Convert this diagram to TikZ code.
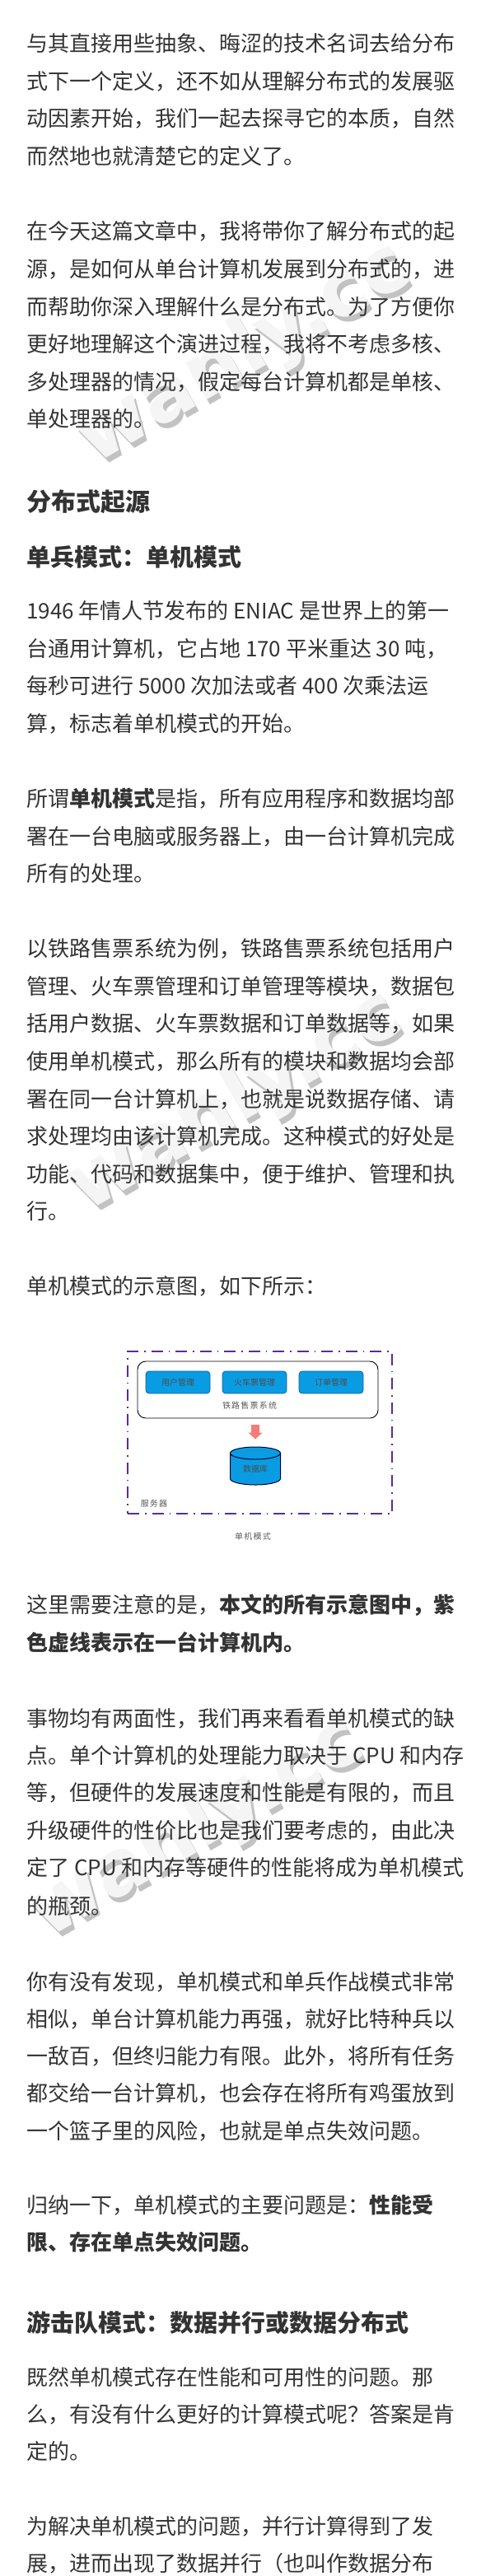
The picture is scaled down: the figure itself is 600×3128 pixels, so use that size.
\documentclass[tikz,border=0pt]{standalone}
\usepackage{fontspec}
\setmainfont{Noto Sans CJK SC}
\newfontfamily\markfont{DejaVu Sans}
\usetikzlibrary{arrows.meta,shapes.geometric}
\definecolor{inkgray}{HTML}{333333}
\definecolor{vmpurple}{HTML}{5A2D91}
\definecolor{modblue}{HTML}{0A9CE2}
\definecolor{modedge}{HTML}{145F96}
\definecolor{flowred}{HTML}{F47C78}
\tikzset{
  para/.style={anchor=base west,inner sep=0pt,yshift=-9.5pt,text=inkgray,font=\fontsize{26pt}{26pt}\selectfont},
  headone/.style={para,yshift=-10.5pt,font=\fontsize{30pt}{30pt}\selectfont\bfseries},
  headtwo/.style={para,yshift=-10pt,font=\fontsize{29pt}{29pt}\selectfont\bfseries},
  module/.style={draw=modedge,fill=modblue,line width=.8pt,rounded corners=4pt,minimum width=78pt,minimum height=27pt,inner sep=0pt,text=black!70,font=\fontsize{10pt}{10pt}\selectfont},
  tiny/.style={inner sep=0pt,text=black!65,font=\fontsize{10pt}{10pt}\selectfont\addfontfeature{LetterSpace=12}},
  markshade/.style={rotate=30,inner sep=0pt,text=black!24,font=\fontsize{94pt}{94pt}\markfont\bfseries},
  marktop/.style={rotate=30,inner sep=0pt,text=black!4,font=\fontsize{94pt}{94pt}\markfont\bfseries}
}
\begin{document}
\begin{tikzpicture}[x=1pt,y=-1pt]
  \useasboundingbox (0,0) rectangle (600,3128);
  % watermark
  \node[markshade] (shadea) at (300,436) {wanly.cc};
  \node[marktop] (marka) at (296,430) {wanly.cc};
  \node[markshade] (shadeb) at (290,1344) {wanly.cc};
  \node[marktop] (markb) at (286,1338) {wanly.cc};
  \node[markshade] (shadec) at (243,2226) {wanly.cc};
  \node[marktop] (markc) at (239,2220) {wanly.cc};
  % opening
  \node[para] (aa) at (32,53) {与其直接用些抽象、晦涩的技术名词去给分布};
  \node[para] (ab) at (32,99) {式下一个定义，还不如从理解分布式的发展驱};
  \node[para] (ac) at (32,144) {动因素开始，我们一起去探寻它的本质，自然};
  \node[para] (ad) at (32,190) {而然地也就清楚它的定义了。};
  \node[para] (ba) at (32,281) {在今天这篇文章中，我将带你了解分布式的起};
  \node[para] (bb) at (32,327) {源，是如何从单台计算机发展到分布式的，进};
  \node[para] (bc) at (32,373) {而帮助你深入理解什么是分布式。为了方便你};
  \node[para] (bd) at (32,418) {更好地理解这个演进过程，我将不考虑多核、};
  \node[para] (be) at (32,464) {多处理器的情况，假定每台计算机都是单核、};
  \node[para] (bf) at (32,509) {单处理器的。};
  % headings
  \node[headone] (headorigin) at (32,600) {分布式起源};
  \node[headtwo] (headsingle) at (32,668) {单兵模式：单机模式};
  \node[para] (ca) at (32,742) {1946 年情人节发布的 ENIAC 是世界上的第一};
  \node[para] (cb) at (32,788) {台通用计算机，它占地 170 平米重达 30 吨，};
  \node[para] (cc) at (32,833) {每秒可进行 5000 次加法或者 400 次乘法运};
  \node[para] (cd) at (32,879) {算，标志着单机模式的开始。};
  \node[para] (da) at (32,970) {所谓{\bfseries 单机模式}是指，所有应用程序和数据均部};
  \node[para] (db) at (32,1016) {署在一台电脑或服务器上，由一台计算机完成};
  \node[para] (dc) at (32,1061) {所有的处理。};
  \node[para] (ea) at (32,1152) {以铁路售票系统为例，铁路售票系统包括用户};
  \node[para] (eb) at (32,1198) {管理、火车票管理和订单管理等模块，数据包};
  \node[para] (ec) at (32,1243) {括用户数据、火车票数据和订单数据等，如果};
  \node[para] (ed) at (32,1289) {使用单机模式，那么所有的模块和数据均会部};
  \node[para] (ee) at (32,1335) {署在同一台计算机上，也就是说数据存储、请};
  \node[para] (ef) at (32,1380) {求处理均由该计算机完成。这种模式的好处是};
  \node[para] (eg) at (32,1426) {功能、代码和数据集中，便于维护、管理和执};
  \node[para] (eh) at (32,1471) {行。};
  \node[para] (fa) at (32,1562) {单机模式的示意图，如下所示：};
  % the figure
  \node[draw=vmpurple,line width=1.5pt,dash pattern=on 14pt off 7pt on 1.5pt off 7pt,minimum width=321pt,minimum height=197pt,inner sep=0pt] (server) at (315.5,1739.5) {};
  \node[draw=black,line width=.9pt,rounded corners=10pt,minimum width=292pt,minimum height=69pt,inner sep=0pt] (sysbox) at (313,1687.5) {};
  \node[module] (moduser) at (216,1678.5) {用户管理};
  \node[module] (modtrain) at (309,1678.5) {火车票管理};
  \node[module] (modorder) at (402,1678.5) {订单管理};
  \node[tiny] (syslabel) at (303,1707) {铁路售票系统};
  \node[cylinder,shape border rotate=90,aspect=.5,draw=black!80!blue,line width=1pt,fill=modblue,minimum width=61pt,minimum height=46pt,inner sep=0pt,text=black!70,font=\fontsize{10pt}{10pt}\selectfont] (dbase) at (310,1784) {数据库};
  \draw[-{Triangle[length=8pt,width=17pt]},line width=10pt,flowred,shorten <=8pt,shorten >=9pt] (sysbox.south -| dbase.north) -- (dbase.north);
  \node[tiny] (srvlabel) at (187,1826) {服务器};
  \node[tiny] (caption) at (307,1866) {单机模式};
  % after the figure
  \node[para] (ga) at (32,1949) {这里需要注意的是，{\bfseries 本文的所有示意图中，紫}};
  \node[para,font=\fontsize{26pt}{26pt}\selectfont\bfseries] (gb) at (32,1995) {色虚线表示在一台计算机内。};
  \node[para] (ha) at (32,2087) {事物均有两面性，我们再来看看单机模式的缺};
  \node[para] (hb) at (32,2132) {点。单个计算机的处理能力取决于 CPU 和内存};
  \node[para] (hc) at (32,2177) {等，但硬件的发展速度和性能是有限的，而且};
  \node[para] (hd) at (32,2223) {升级硬件的性价比也是我们要考虑的，由此决};
  \node[para] (he) at (32,2268) {定了 CPU 和内存等硬件的性能将成为单机模式};
  \node[para] (hf) at (32,2315) {的瓶颈。};
  \node[para] (ia) at (32,2407) {你有没有发现，单机模式和单兵作战模式非常};
  \node[para] (ib) at (32,2452) {相似，单台计算机能力再强，就好比特种兵以};
  \node[para] (ic) at (32,2497) {一敌百，但终归能力有限。此外，将所有任务};
  \node[para] (id) at (32,2542) {都交给一台计算机，也会存在将所有鸡蛋放到};
  \node[para] (ie) at (32,2588) {一个篮子里的风险，也就是单点失效问题。};
  \node[para] (ja) at (32,2678) {归纳一下，单机模式的主要问题是：{\bfseries 性能受}};
  \node[para,font=\fontsize{26pt}{26pt}\selectfont\bfseries] (jb) at (32,2723) {限、存在单点失效问题。};
  \node[headtwo] (headguerilla) at (32,2812) {游击队模式：数据并行或数据分布式};
  \node[para] (ka) at (32,2887) {既然单机模式存在性能和可用性的问题。那};
  \node[para] (kb) at (32,2932) {么，有没有什么更好的计算模式呢？答案是肯};
  \node[para] (kc) at (32,2977) {定的。};
  \node[para] (la) at (32,3068) {为解决单机模式的问题，并行计算得到了发};
  \node[para] (lb) at (32,3113) {展，进而出现了数据并行（也叫作数据分布};
\end{tikzpicture}
\end{document}
